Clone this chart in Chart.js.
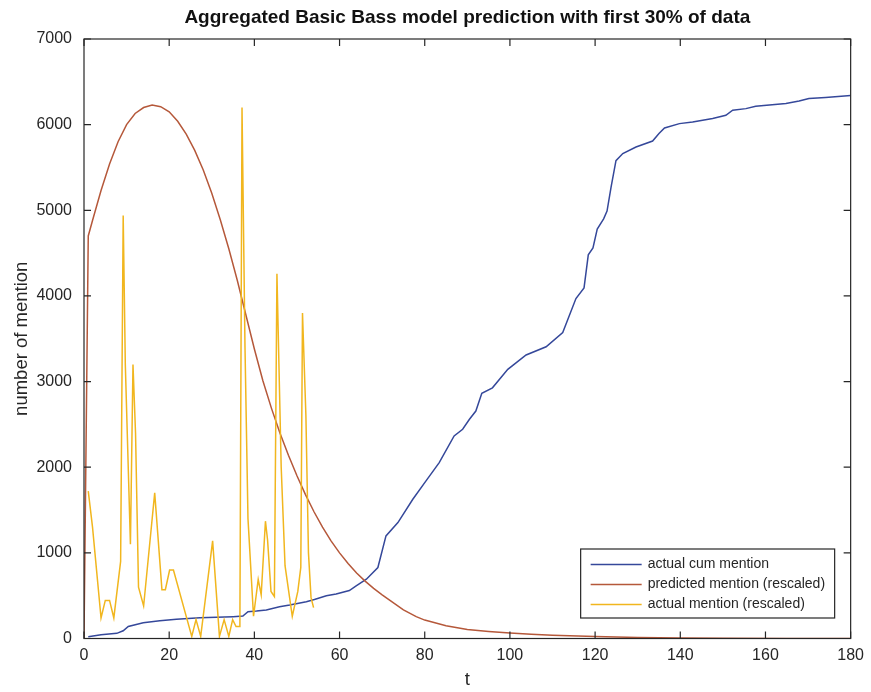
<!DOCTYPE html>
<html>
<head>
<meta charset="utf-8">
<script src="https://cdn.jsdelivr.net/npm/chart.js@4"></script>
<style>
  html, body { margin: 0; padding: 0; background: #fff; }
</style>
</head>
<body>
<canvas id="chart" width="871" height="692"></canvas>
<script>
// data (t = days)

// actual cumulative mentions
const cumT = [1, 4, 7.7, 9.2, 10.4, 13.9, 17.8, 21.7, 27.2, 31.1, 35, 37.3, 38.5, 40.5, 42.8, 45.9, 48.3, 52.2, 54.1, 56.9,
  59.2, 62.3, 63.9, 66.3, 69, 70.9, 73.7, 77.2, 80.3, 83.4, 86.9, 88.9, 90.5, 92, 93.4, 95.9, 99.5, 103.8, 108.5, 112.4,
  115.5, 117.4, 118.4, 119.5, 120.5, 122, 122.8, 123.75, 124.9, 126.5, 129.6, 133.5, 135, 136.3, 139.8, 142.9, 147.6,
  150.7, 152.3, 155.4, 157.7, 164.8, 167.9, 170.2, 174.1, 180];
const cumVals = [20, 45, 60, 90, 140, 185, 208, 224, 243, 247, 255, 262, 313, 320, 333, 371, 390, 430, 455, 500,
  520, 560, 615, 692, 829, 1198, 1354, 1626, 1840, 2054, 2365, 2443, 2560, 2656, 2864, 2927, 3143, 3310, 3406, 3573,
  3969, 4094, 4480, 4560, 4780, 4900, 4990, 5270, 5580, 5662, 5739, 5809, 5896, 5961, 6012, 6031, 6071,
  6109, 6168, 6187, 6214, 6246, 6276, 6304, 6316, 6340];

// predicted mentions (rescaled)
const predT = [0, 1, 2, 4, 6, 8, 10, 12, 14, 16, 18, 20, 22, 24, 26, 28, 30, 32, 34, 36, 38, 40, 42, 44, 46, 48, 50,
  52, 54, 56, 58, 60, 62, 64, 66, 68, 70, 72, 75, 78, 80, 85, 90, 95, 100, 105, 110, 120, 130, 140, 150, 165, 180];
const predVals = [0, 4700, 4880, 5230, 5540, 5800, 6000, 6130, 6200, 6230, 6210, 6150, 6040, 5890, 5700, 5470, 5200,
  4890, 4550, 4180, 3780, 3380, 3010, 2690, 2400, 2140, 1900, 1680, 1480, 1300, 1140, 1000, 875, 765, 670, 585, 510,
  440, 335, 255, 215, 150, 105, 82, 64, 50, 38, 22, 12, 6, 3, 1, 0];

// actual mentions (rescaled)
const mentT = [1, 2, 4, 5, 6, 7, 8.6, 9.2, 9.7, 10.9, 11.5, 12.1, 12.8, 14, 16.6, 18.3, 19.1, 20.1, 21, 25.3, 26.3,
  27.4, 30.2, 31.8, 32.9, 34, 34.9, 35.7, 36.6, 37.1, 37.8, 38.5, 39.8, 40.9, 41.6, 42.6, 43.1, 43.9, 44.7, 45.3,
  46.3, 47.2, 48.9, 50.2, 50.9, 51.3, 52.1, 52.7, 53.3, 53.9];
const mentVals = [1720, 1300, 240, 445, 445, 240, 900, 4940, 3200, 1100, 3200, 2400, 600, 380, 1700, 570, 570, 800,
  800, 25, 220, 25, 1140, 25, 220, 25, 220, 140, 140, 6200, 3400, 1400, 260, 690, 510, 1370, 1150, 550, 490, 4260,
  2000, 850, 260, 550, 830, 3800, 2600, 1000, 480, 360];

const seriesLabels = ['actual cum mention', 'predicted mention (rescaled)', 'actual mention (rescaled)'];
const xTickMax = 180;
const yTickMax = 7000;

const toPoints = (ts, vs) => ts.map((t, i) => ({ x: t, y: vs[i] }));

const INK = '#262626';
Chart.defaults.font.family = "'Liberation Sans', Arial, sans-serif";
Chart.defaults.color = INK;

// MATLAB-ish box with inward ticks, plus the legend drawn inside the axes
const boxPlugin = {
  id: 'matlabBox',
  afterDraw(chart) {
    const { ctx, chartArea: a, scales: { x, y } } = chart;
    ctx.save();
    ctx.strokeStyle = INK;
    ctx.lineWidth = 1.2;
    ctx.strokeRect(a.left, a.top, a.right - a.left, a.bottom - a.top);
    ctx.beginPath();
    x.ticks.forEach(t => {
      const px = x.getPixelForValue(t.value);
      ctx.moveTo(px, a.bottom); ctx.lineTo(px, a.bottom - 7);
      ctx.moveTo(px, a.top); ctx.lineTo(px, a.top + 7);
    });
    y.ticks.forEach(t => {
      const py = y.getPixelForValue(t.value);
      ctx.moveTo(a.left, py); ctx.lineTo(a.left + 7, py);
      ctx.moveTo(a.right, py); ctx.lineTo(a.right - 7, py);
    });
    ctx.stroke();

    // legend
    const bw = 254, bh = 69;
    const bx = a.right - 16 - bw, by = a.bottom - 20.5 - bh;
    ctx.fillStyle = '#fff';
    ctx.fillRect(bx, by, bw, bh);
    ctx.lineWidth = 1.2;
    ctx.strokeStyle = INK;
    ctx.strokeRect(bx, by, bw, bh);
    ctx.font = "14px 'Liberation Sans', Arial, sans-serif";
    ctx.textBaseline = 'middle';
    chart.data.datasets.forEach((ds, i) => {
      const ly = by + 15.5 + i * 20;
      ctx.strokeStyle = ds.borderColor;
      ctx.lineWidth = 1.5;
      ctx.beginPath();
      ctx.moveTo(bx + 10, ly); ctx.lineTo(bx + 61, ly);
      ctx.stroke();
      ctx.fillStyle = INK;
      ctx.fillText(ds.label, bx + 67, ly);
    });
    ctx.restore();
  }
};

const chart = new Chart(document.getElementById('chart'), {
  type: 'line',
  data: {
    datasets: [
      {
        label: seriesLabels[0],
        data: toPoints(cumT, cumVals),
        borderColor: '#35489a',
        borderWidth: 1.5,
        pointRadius: 0,
        tension: 0,
        order: 3
      },
      {
        label: seriesLabels[1],
        data: toPoints(predT, predVals),
        borderColor: '#b5583a',
        borderWidth: 1.5,
        pointRadius: 0,
        tension: 0,
        order: 2
      },
      {
        label: seriesLabels[2],
        data: toPoints(mentT, mentVals),
        borderColor: '#f1b61e',
        borderWidth: 1.5,
        pointRadius: 0,
        tension: 0,
        order: 1
      }
    ]
  },
  options: {
    responsive: false,
    animation: false,
    devicePixelRatio: 1,
    layout: { padding: { left: 0, right: 19, top: 0, bottom: 0 } },
    plugins: {
      legend: { display: false },
      tooltip: { enabled: false },
      title: {
        display: true,
        fullSize: false,
        text: 'Aggregated Basic Bass model prediction with first 30% of data',
        color: '#111',
        font: { size: 19, weight: 'bold' },
        padding: { top: 6.6, bottom: 9.6 }
      }
    },
    scales: {
      x: {
        type: 'linear',
        min: 0,
        max: xTickMax,
        ticks: { stepSize: 20, padding: 7, font: { size: 16 }, maxRotation: 0, callback: v => String(v) },
        grid: { display: false, drawTicks: false },
        border: { display: false },
        title: { display: true, text: 't', font: { size: 18.5 }, padding: { top: 0, bottom: 1 } },
        afterFit(s) { s.height = 53.5; }
      },
      y: {
        min: 0,
        max: yTickMax,
        ticks: { stepSize: 1000, padding: 12, font: { size: 16 }, callback: v => String(v) },
        grid: { display: false, drawTicks: false },
        border: { display: false },
        title: { display: true, text: 'number of mention', font: { size: 18.5 }, padding: { top: 11, bottom: 0 } },
        afterFit(s) { s.width = 84; }
      }
    }
  },
  plugins: [boxPlugin]
});
</script>
</body>
</html>
